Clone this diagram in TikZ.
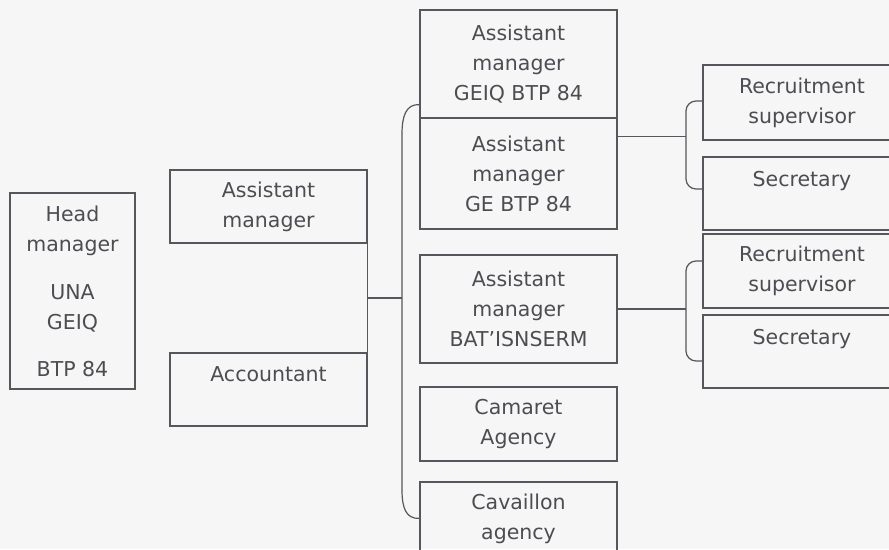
\documentclass[tikz,border=0pt]{standalone}
\usepackage{fontspec}
\setmainfont{DejaVu Sans}
\usetikzlibrary{calc}
\definecolor{linec}{RGB}{88,86,92}
\definecolor{textc}{RGB}{78,76,82}
\definecolor{bgc}{RGB}{246,246,246}
\begin{document}
\begin{tikzpicture}[x=1pt,y=-1pt,
  box/.style={draw=linec, line width=1.2pt, inner sep=0pt, align=center,
    text=textc, font=\fontsize{20.5}{30}\selectfont},
  wbox/.style={box, minimum width=197pt},
  rbox/.style={box, minimum width=198pt},
  conn/.style={draw=linec, line width=1.2pt}]
\useasboundingbox (0,0) rectangle (889,549);
\fill[bgc] (0,0) rectangle (889,549);
\clip (0,0) rectangle (889,549);

% left column
\node[box, minimum width=125pt, minimum height=196pt] (head) at (72.5,291)
  {Head\\manager\\[18pt]UNA\\GEIQ\\[17pt]BTP 84};
\node[wbox, minimum height=73pt] (am) at (268.5,206.5) {Assistant\\manager};
\node[wbox, minimum height=73pt] (acc) at (268.5,389.5) {Accountant\\\mbox{}};

% middle column
\node[wbox, minimum height=108pt] (geiq) at (518.5,64) {Assistant\\manager\\GEIQ BTP 84};
\node[wbox, minimum height=111pt] (ge) at (518.5,173.5) {Assistant\\manager\\GE BTP 84};
\node[wbox, minimum height=108pt] (bat) at (518.5,309) {Assistant\\manager\\BAT'ISNSERM};
\node[wbox, minimum height=74pt] (cam) at (518.5,424) {Camaret\\Agency};
\node[wbox, minimum height=74pt] (cav) at (518.5,519) {Cavaillon\\agency};

% right column
\node[rbox, minimum height=75pt] (rec1) at (802,102.5) {Recruitment\\supervisor};
\node[rbox, minimum height=73pt] (sec1) at (802,193.5) {Secretary\\\mbox{}};
\node[rbox, minimum height=74pt] (rec2) at (802,271) {Recruitment\\supervisor};
\node[rbox, minimum height=73pt] (sec2) at (802,351.5) {Secretary\\\mbox{}};

% connectors left
\draw[conn] (am.south east) -- (acc.north east);
\coordinate (j1) at ($(am.south east)!.5!(acc.north east)$);
\coordinate (bx) at (402,297);
\draw[conn] (j1) -- (j1 -| bx);

% big brace
\coordinate (tb) at ([yshift=14pt]geiq.south west);
\coordinate (bb) at ([yshift=-37pt]cav.north west);
\draw[conn] (tb) .. controls (406,104) and (402,116) .. (402,134)
  -- (402,490) .. controls (402,508) and (406,519) .. (bb);

% right connectors
\coordinate (g1) at ([yshift=-19pt]ge.north east);
\coordinate (rx1) at (686,137);
\draw[conn] (g1) -- (g1 -| rx1);
\draw[conn, rounded corners=10pt] ([yshift=1.5pt]rec1.west) -| (rx1) |- ([yshift=4.5pt]sec1.west);

\coordinate (rx2) at (686,309);
\draw[conn] (bat.east) -- (bat.east -| rx2);
\draw[conn, rounded corners=10pt] ([yshift=10pt]rec2.west) -| (rx2) |- ([yshift=-9.5pt]sec2.west);
\end{tikzpicture}
\end{document}
